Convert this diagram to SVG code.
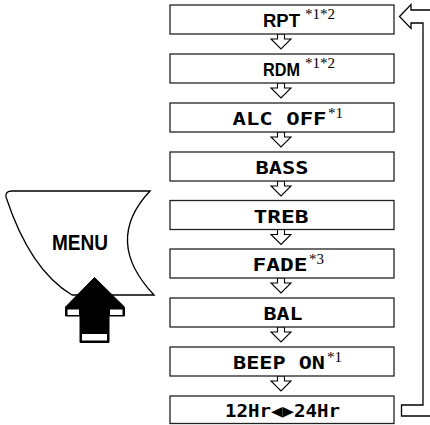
<svg xmlns="http://www.w3.org/2000/svg" width="430" height="425" viewBox="0 0 430 425">
<style>
.box{fill:#fff;stroke:#222;stroke-width:1.3}
.lcd{font-family:"DejaVu Sans Mono","Liberation Mono",monospace;font-weight:bold;font-size:18px;fill:#000}
.sans{font-family:"Liberation Sans",Arial,sans-serif;font-weight:bold;fill:#000}
.sup{font-family:"Liberation Serif","Times New Roman",serif;font-size:15px;fill:#000}
.dn{fill:#fff;stroke:#000;stroke-width:1.1;stroke-linejoin:miter}
.loop{fill:none;stroke:#000;stroke-width:1.3;stroke-linejoin:miter}
</style>
<defs>
<path id="dnArrow" class="dn" d="M-3.5,0 L3.5,0 L3.5,5 L10,5 L0,15 L-10,5 L-3.5,5 Z"/>
</defs>
<rect width="430" height="425" fill="#fff"/>

<g id="menu-button">
<path d="M12,191 L150,191 Q103,241 154,295 L72,295 Q30,270 6,197 Q5,191 12,191 Z" fill="#fff" stroke="#000" stroke-width="1.3"/>
<text class="sans" x="52" y="250" font-size="22.5" textLength="56" lengthAdjust="spacingAndGlyphs">MENU</text>
<polygon points="94.5,277.5 124.5,307 124.5,316 109,316 109,342.5 80,342.5 80,316 65.5,316 65.5,307" fill="#000" stroke="#000" stroke-width="1"/>
<rect x="67.5" y="309.5" width="11.5" height="5.5" fill="#fff"/>
<rect x="110" y="309.5" width="12.5" height="5.5" fill="#fff"/>
<rect x="82" y="334" width="25" height="6.5" fill="#fff"/>
</g>

<g id="connectors">
<use href="#dnArrow" x="281" y="34"/>
<use href="#dnArrow" x="281" y="83"/>
<use href="#dnArrow" x="281" y="132"/>
<use href="#dnArrow" x="281" y="181"/>
<use href="#dnArrow" x="281" y="229.5"/>
<use href="#dnArrow" x="281" y="278"/>
<use href="#dnArrow" x="281" y="327"/>
<use href="#dnArrow" x="281" y="376"/>
<path class="loop" d="M436,10 L411,10 L411,4.5 L399.5,16.5 L411,28.5 L411,23 L423,23 L423,405 L401.5,405 L401.5,416 L436,416"/>
</g>

<g id="node-rpt">
<rect class="box" x="170" y="5" width="224" height="29"/>
<text class="sans" x="263" y="27" font-size="18.5" textLength="37" lengthAdjust="spacingAndGlyphs">RPT</text>
<text class="sup" x="305" y="19">*1*2</text>
</g>
<g id="node-rdm">
<rect class="box" x="170" y="54" width="224" height="29"/>
<text class="sans" x="263" y="76" font-size="18.5" textLength="37" lengthAdjust="spacingAndGlyphs">RDM</text>
<text class="sup" x="305" y="68">*1*2</text>
</g>
<g id="node-alc">
<rect class="box" x="170" y="103" width="224" height="29"/>
<text class="lcd" x="279.5" y="125" text-anchor="middle" textLength="94" lengthAdjust="spacingAndGlyphs">ALC OFF</text>
<text class="sup" x="328" y="118">*1</text>
</g>
<g id="node-bass">
<rect class="box" x="170" y="152" width="224" height="29"/>
<text class="lcd" x="282" y="174" text-anchor="middle" textLength="53" lengthAdjust="spacingAndGlyphs">BASS</text>
</g>
<g id="node-treb">
<rect class="box" x="170" y="200.5" width="224" height="29"/>
<text class="lcd" x="281" y="222.5" text-anchor="middle" textLength="55" lengthAdjust="spacingAndGlyphs">TREB</text>
</g>
<g id="node-fade">
<rect class="box" x="170" y="249" width="224" height="29"/>
<text class="lcd" x="280" y="271" text-anchor="middle" textLength="55" lengthAdjust="spacingAndGlyphs">FADE</text>
<text class="sup" x="309" y="264">*3</text>
</g>
<g id="node-bal">
<rect class="box" x="170" y="298" width="224" height="29"/>
<text class="lcd" x="283" y="320" text-anchor="middle" textLength="39" lengthAdjust="spacingAndGlyphs">BAL</text>
</g>
<g id="node-beep">
<rect class="box" x="170" y="347" width="224" height="29"/>
<text class="lcd" x="279" y="369" text-anchor="middle" textLength="92" lengthAdjust="spacingAndGlyphs">BEEP ON</text>
<text class="sup" x="327" y="362">*1</text>
</g>
<g id="node-clock">
<rect class="box" x="170" y="396" width="224" height="27.5"/>
<text class="lcd" x="282.5" y="417" text-anchor="middle" textLength="115" lengthAdjust="spacingAndGlyphs">12Hr◀▶24Hr</text>
</g>
</svg>
